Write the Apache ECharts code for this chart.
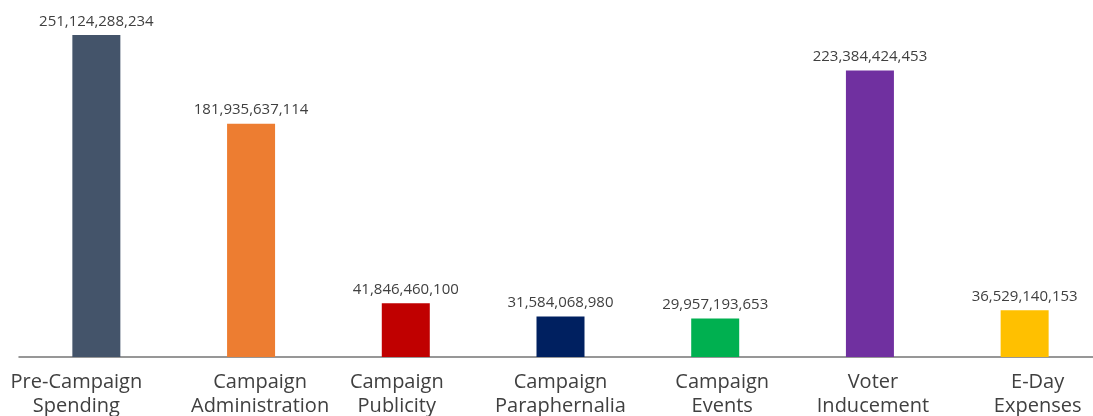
<!DOCTYPE html>
<html>
<head>
<meta charset="utf-8">
<script src="https://cdn.jsdelivr.net/npm/echarts@6/dist/echarts.min.js"></script>
<style>
  html, body { margin: 0; padding: 0; background: #fff; }
  #chart { width: 1093px; height: 416px; }
</style>
</head>
<body>
<div id="chart"></div>
<script>
// Campaign spending by category
const categories = [
  'Pre-Campaign\nSpending',
  'Campaign\nAdministration',
  'Campaign\nPublicity',
  'Campaign\nParaphernalia',
  'Campaign\nEvents',
  'Voter\nInducement',
  'E-Day\nExpenses'
];
const amounts = [
  251124288234,
  181935637114,
  41846460100,
  31584068980,
  29957193653,
  223384424453,
  36529140153
];
const barColors = ['#44546A', '#ED7D31', '#C00000', '#002060', '#00B050', '#7030A0', '#FFC000'];
// horizontal nudge (px) of each category caption relative to its bar
const labelShift = [-20, 9, -9, 0, 7, 3, 13];

const labelFont = { color: '#404040', fontFamily: 'Open Sans', fontSize: 20, lineHeight: 24 };
const rich = {};
labelShift.forEach((d, i) => {
  rich['c' + i] = Object.assign({
    padding: [0, Math.max(0, -2 * d), 0, Math.max(0, 2 * d)]
  }, labelFont);
});

const chart = echarts.init(document.getElementById('chart'));
chart.setOption({
  animation: false,
  grid: { left: 19, right: -9, top: 35, bottom: 59, outerBoundsMode: 'none', containLabel: false },
  xAxis: {
    type: 'category',
    data: categories,
    axisLine: { lineStyle: { color: '#767676', width: 1.5 } },
    axisTick: { show: false },
    axisLabel: Object.assign({
      interval: 0,
      margin: 13,
      rich: rich,
      formatter: (value, idx) => value.split('\n').map(s => '{c' + idx + '|' + s + '}').join('\n')
    }, labelFont)
  },
  yAxis: {
    type: 'value',
    min: 0,
    max: function (v) { return v.max; },
    show: false,
    splitLine: { show: false }
  },
  series: [{
    type: 'bar',
    barWidth: 48,
    data: amounts.map((v, i) => ({ value: v, itemStyle: { color: barColors[i] } })),
    label: {
      show: true,
      position: 'top',
      distance: 6,
      color: '#404040',
      fontFamily: 'Open Sans',
      fontSize: 15,
      formatter: p => p.value.toLocaleString('en-US')
    }
  }]
});
</script>
</body>
</html>
